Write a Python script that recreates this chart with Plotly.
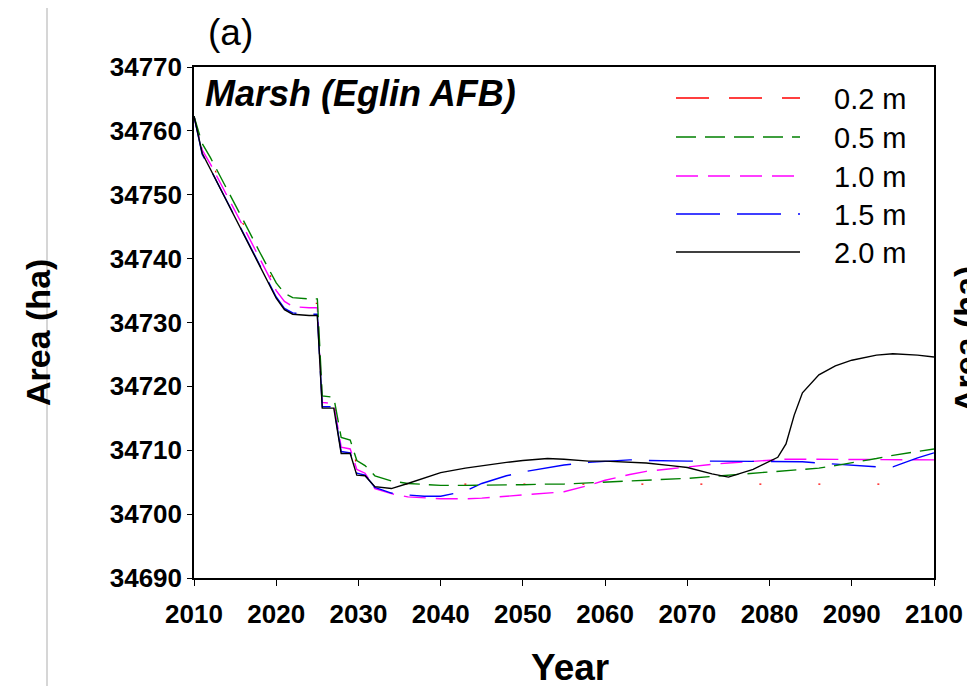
import plotly.graph_objects as go

years = [2010, 2011, 2012, 2014, 2016, 2018, 2020, 2021, 2022, 2024, 2025, 2025.6, 2027, 2027.9,
         2029, 2029.8, 2030.8, 2032, 2034, 2036, 2038, 2040, 2043, 2045, 2048, 2050, 2053, 2055,
         2058, 2060, 2063, 2065, 2068, 2070, 2073, 2075, 2078, 2080, 2081, 2082, 2083, 2084, 2086,
         2088, 2090, 2093, 2095, 2098, 2100]

area_02 = [34762.3, 34757.4, 34755.2, 34750.4, 34745.4, 34740.4, 34735.6, 34734.0, 34733.2, 34733.0,
           34733.0, 34718.0, 34717.8, 34711.3, 34711.0, 34707.8, 34707.0, 34705.6, 34705.0, 34704.7,
           34704.7, 34704.7, 34704.7, 34704.7, 34704.7, 34704.7, 34704.7, 34704.7, 34704.7, 34704.7,
           34704.7, 34704.7, 34704.7, 34704.7, 34704.7, 34704.7, 34704.7, 34704.7, 34704.7, 34704.7,
           34704.7, 34704.7, 34704.7, 34704.7, 34704.7, 34704.7, 34704.7, 34704.7, 34704.7]

area_05 = [34762.3, 34758.0, 34755.8, 34751.0, 34746.0, 34741.0, 34736.2, 34734.6, 34733.9, 34733.7,
           34733.7, 34718.5, 34718.3, 34712.0, 34711.6, 34708.4, 34707.6, 34706.0, 34705.2, 34704.8,
           34704.6, 34704.5, 34704.5, 34704.5, 34704.6, 34704.6, 34704.7, 34704.7, 34704.9, 34705.0,
           34705.2, 34705.3, 34705.5, 34705.6, 34705.9, 34706.1, 34706.4, 34706.5, 34706.6, 34706.7,
           34706.8, 34706.9, 34707.2, 34707.6, 34708.0, 34708.7, 34709.2, 34709.8, 34710.2]

area_10 = [34762.3, 34757.0, 34754.8, 34750.0, 34745.0, 34740.0, 34735.0, 34733.3, 34732.5, 34732.3,
           34732.3, 34717.5, 34717.3, 34710.5, 34710.2, 34707.0, 34706.4, 34704.0, 34703.2, 34702.7,
           34702.5, 34702.4, 34702.4, 34702.5, 34702.8, 34703.0, 34703.2, 34703.5, 34704.5, 34705.3,
           34706.2, 34706.7, 34707.1, 34707.4, 34707.8, 34708.0, 34708.3, 34708.5, 34708.6, 34708.6,
           34708.6, 34708.6, 34708.6, 34708.6, 34708.6, 34708.6, 34708.5, 34708.5, 34708.5]

area_15 = [34762.3, 34756.3, 34754.0, 34749.0, 34744.0, 34739.0, 34734.0, 34732.2, 34731.5, 34731.3,
           34731.3, 34716.8, 34716.8, 34709.8, 34709.6, 34706.4, 34706.1, 34704.2, 34703.3, 34703.0,
           34702.8, 34702.8, 34703.6, 34704.8, 34706.0, 34706.6, 34707.3, 34707.7, 34708.1, 34708.3,
           34708.5, 34708.4, 34708.3, 34708.3, 34708.3, 34708.3, 34708.3, 34708.3, 34708.3, 34708.3,
           34708.3, 34708.2, 34708.0, 34707.8, 34707.6, 34707.4, 34707.4, 34708.8, 34709.6]

area_20 = [34762.3, 34756.5, 34754.0, 34749.0, 34744.0, 34738.8, 34733.8, 34732.0, 34731.3, 34731.1,
           34731.1, 34716.6, 34716.6, 34709.5, 34709.5, 34706.1, 34706.0, 34704.3, 34704.0, 34704.8,
           34705.7, 34706.5, 34707.2, 34707.6, 34708.1, 34708.4, 34708.7, 34708.6, 34708.3, 34708.3,
           34708.1, 34708.0, 34707.6, 34707.3, 34706.3, 34705.8, 34707.0, 34708.3, 34708.9, 34711.0,
           34715.5, 34719.0, 34721.8, 34723.2, 34724.1, 34724.9, 34725.1, 34724.9, 34724.6]

series_names = ["0.2 m", "0.5 m", "1.0 m", "1.5 m", "2.0 m"]
x_ticks = [2010, 2020, 2030, 2040, 2050, 2060, 2070, 2080, 2090, 2100]
y_ticks = [34690, 34700, 34710, 34720, 34730, 34740, 34750, 34760, 34770]

FONT = "Liberation Sans, Arial, sans-serif"
OFF = 8  # page body margin
W, H = 975 - OFF, 686 - OFF
L, R, T, B = 194 - OFF, 934 - OFF, 67 - OFF, 578 - OFF


def px(xw):
    """window pixel x -> paper fraction"""
    return (xw - OFF - L) / (R - L)


def py(yw):
    """window pixel y -> paper fraction"""
    return (B - (yw - OFF)) / (B - T)


styles = {
    "0.2 m": dict(color="#ff0000", dash="33px,20px"),
    "0.5 m": dict(color="#008000", dash="20px,9px"),
    "1.0 m": dict(color="#ff00ff", dash="22px,10px"),
    "1.5 m": dict(color="#0000ff", dash="44px,17px"),
    "2.0 m": dict(color="#000000", dash="solid"),
}

data_map = {"0.2 m": area_02, "0.5 m": area_05, "1.0 m": area_10, "1.5 m": area_15, "2.0 m": area_20}

fig = go.Figure()
# draw order: red, magenta, blue, green, black
for name in ["0.2 m", "1.0 m", "1.5 m", "0.5 m", "2.0 m"]:
    st = styles[name]
    dash = st["dash"]
    width = 1.4
    if name == "0.2 m":
        dash = "2px,57px"
        width = 1.2
    fig.add_trace(go.Scatter(x=years, y=data_map[name], mode="lines", name=name,
                             line=dict(color=st["color"], dash=dash, width=width),
                             showlegend=False))

shapes = []
annotations = []
# manual legend
rows = [98, 137, 176, 214, 252]
for name, yy in zip(series_names, rows):
    st = styles[name]
    shapes.append(dict(type="line", xref="paper", yref="paper", x0=px(676), x1=px(800),
                       y0=py(yy), y1=py(yy), line=dict(color=st["color"], dash=st["dash"], width=1.6)))
    annotations.append(dict(text=name, xref="paper", yref="paper", x=px(832), y=py(yy + 1),
                            xanchor="left", yanchor="middle", showarrow=False,
                            font=dict(family=FONT, size=29, color="#000")))

# left light-grey border line
shapes.append(dict(type="line", xref="paper", yref="paper", x0=px(47), x1=px(47), y0=py(OFF), y1=py(686),
                   line=dict(color="#c8c8c8", width=1.5)))

annotations += [
    dict(text="<b><i>Marsh (Eglin AFB)</i></b>", xref="paper", yref="paper", x=px(203), y=py(93),
         xanchor="left", yanchor="middle", showarrow=False, font=dict(family=FONT, size=36, color="#000")),
    dict(text="(a)", xref="paper", yref="paper", x=px(230), y=py(33), xanchor="center", yanchor="middle",
         showarrow=False, font=dict(family=FONT, size=37, color="#000")),
    dict(text="<b>Area (ha)</b>", xref="paper", yref="paper", x=px(38), y=py(333), xanchor="center",
         yanchor="middle", textangle=-90, showarrow=False, font=dict(family=FONT, size=34, color="#000")),
    dict(text="<b>Year</b>", xref="paper", yref="paper", x=px(570), y=py(667), xanchor="center",
         yanchor="middle", showarrow=False, font=dict(family=FONT, size=37, color="#000")),
    dict(text="<b>Area (ha)</b>", xref="paper", yref="paper", x=px(966), y=py(340), xanchor="center",
         yanchor="middle", textangle=-90, showarrow=False, font=dict(family=FONT, size=34, color="#000")),
]

tickfont = dict(family=FONT, size=26, color="#000", weight="bold")

fig.update_layout(
    width=W, height=H,
    margin=dict(l=L, r=W - R, t=T, b=H - B, pad=0),
    paper_bgcolor="white", plot_bgcolor="white",
    shapes=shapes, annotations=annotations,
    showlegend=False,
    xaxis=dict(range=[2010, 2100], tickvals=x_ticks, ticktext=[str(v) for v in x_ticks],
               showgrid=False, zeroline=False, showline=True, linecolor="#000", linewidth=1.5,
               mirror=True, ticks="outside", ticklen=6, tickcolor="#000",
               ticklabelstandoff=6, tickfont=tickfont),
    yaxis=dict(range=[34690, 34770], tickvals=y_ticks, ticktext=[str(v) for v in y_ticks],
               showgrid=False, zeroline=False, showline=True, linecolor="#000", linewidth=1.5,
               mirror=True, ticks="outside", ticklen=5, tickcolor="#000",
               tickfont=tickfont),
)

fig.write_html("out.html")
